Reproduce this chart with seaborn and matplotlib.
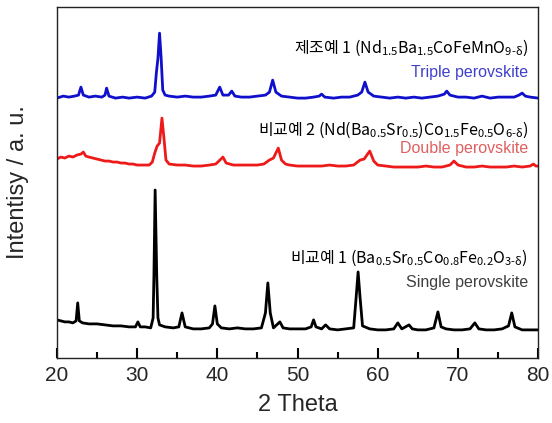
import numpy as np
import pandas as pd
import matplotlib
matplotlib.use('Agg')
import matplotlib.pyplot as plt
import seaborn as sns

# XRD patterns (2 theta, stacked intensity in a.u.)
triple_x = [20.0, 20.8, 21.5, 22.2, 22.7, 23.0, 23.3, 24.0, 24.8, 25.6, 26.0, 26.2, 26.5, 27.3, 28.2, 29.0,
            30.0, 31.0, 31.8, 32.2, 32.4, 32.6, 32.8, 33.0, 33.2, 33.5, 34.0, 35.0, 36.0, 37.0, 38.0, 39.0,
            39.8, 40.3, 40.7, 41.4, 41.8, 42.2, 43.0, 44.0, 45.0, 46.0, 46.5, 46.9, 47.3, 48.0, 49.0, 50.0,
            51.0, 52.0, 52.7, 53.0, 53.4, 54.5, 55.5, 56.5, 57.5, 58.0, 58.4, 58.8, 59.5, 60.5, 61.5, 62.5,
            63.5, 64.5, 65.5, 66.5, 67.5, 68.3, 68.6, 69.0, 70.0, 71.0, 72.0, 73.0, 74.0, 75.0, 76.0, 77.0,
            77.6, 78.0, 78.4, 79.0, 80.0]
triple_y = [260, 262, 261, 262, 263, 271, 263, 261, 262, 261, 263, 270, 262, 260, 261, 260,
            261, 260, 262, 266, 285, 300, 325, 300, 268, 263, 262, 261, 262, 261, 261, 262,
            263, 271, 263, 263, 267, 262, 261, 261, 262, 263, 266, 278, 266, 262, 261, 260,
            260, 261, 262, 264, 261, 260, 261, 261, 263, 266, 276, 266, 262, 261, 260, 261,
            260, 261, 260, 261, 262, 264, 267, 263, 261, 261, 260, 262, 260, 261, 261, 261,
            263, 265, 262, 261, 260]

double_x = [20.0, 20.5, 21.0, 21.5, 22.0, 22.5, 23.0, 23.3, 23.6, 24.0, 24.5, 25.0, 25.5, 26.0, 26.5, 27.0,
            27.5, 28.0, 28.5, 29.0, 29.5, 30.0, 30.5, 31.0, 31.5, 31.9, 32.2, 32.5, 32.8, 33.1, 33.35, 33.6,
            34.0, 35.0, 36.0, 37.0, 38.0, 39.0, 39.8, 40.2, 40.7, 41.1, 42.0, 43.0, 44.0, 45.0, 45.8, 46.5,
            47.0, 47.6, 48.0, 48.5, 49.0, 50.0, 51.0, 52.0, 53.0, 54.0, 55.0, 56.0, 57.0, 57.8, 58.3, 59.0,
            59.5, 60.0, 61.0, 62.0, 63.0, 64.0, 65.0, 66.0, 67.0, 68.0, 69.0, 69.5, 70.0, 71.0, 72.0, 73.0,
            74.0, 75.0, 76.0, 77.0, 78.0, 79.0, 79.4, 79.7, 80.0]
double_y = [199, 201, 200, 202, 201, 203, 204, 206, 202, 201, 200, 199, 198, 197, 197, 196,
            196, 195, 195, 194, 194, 193, 193, 193, 193, 196, 205, 212, 215, 240, 220, 198,
            194, 193, 193, 192, 192, 193, 194, 197, 201, 195, 193, 193, 193, 193, 194, 198,
            200, 210, 198, 194, 193, 192, 192, 192, 192, 193, 192, 192, 193, 198, 199, 207,
            197, 193, 192, 191, 191, 191, 191, 192, 191, 191, 193, 197, 193, 191, 191, 192,
            191, 191, 191, 192, 191, 192, 194, 192, 192]

single_x = [20.0, 20.5, 21.0, 21.5, 22.0, 22.4, 22.6, 22.8, 23.2, 24.0, 25.0, 26.0, 27.0, 28.0, 29.0, 29.8,
            30.1, 30.4, 31.0, 31.7, 32.0, 32.1, 32.25, 32.45, 32.6, 32.8, 33.5, 34.5, 35.2, 35.6, 36.0, 37.0,
            38.0, 39.0, 39.4, 39.7, 40.0, 40.5, 41.5, 42.5, 43.5, 44.5, 45.5, 46.0, 46.3, 46.6, 47.0, 47.8,
            48.2, 49.0, 50.0, 51.0, 51.7, 52.0, 52.3, 53.0, 53.5, 54.0, 55.0, 56.0, 57.0, 57.3, 57.55, 57.8,
            58.1, 59.0, 60.0, 61.0, 62.0, 62.5, 63.0, 63.9, 64.3, 65.0, 66.0, 67.0, 67.5, 67.9, 68.5, 69.5,
            70.5, 71.5, 72.1, 72.6, 73.5, 74.5, 75.5, 76.3, 76.7, 77.1, 78.0, 79.0, 80.0]
single_y = [38, 37, 36, 36, 35, 37, 55, 37, 35, 34, 34, 33, 32, 32, 31, 31,
            36, 31, 31, 30, 40, 82, 168, 82, 40, 33, 31, 30, 31, 45, 31, 29,
            29, 30, 34, 52, 34, 30, 29, 30, 29, 29, 30, 45, 75, 45, 30, 36,
            30, 29, 29, 29, 31, 38, 31, 29, 33, 29, 28, 29, 30, 60, 86, 60,
            32, 29, 28, 28, 29, 35, 29, 33, 29, 28, 28, 30, 46, 31, 29, 28,
            28, 29, 35, 29, 28, 28, 29, 32, 45, 31, 28, 28, 28]

sns.set_style('ticks', {'xtick.direction': 'in'})
plt.rcParams['font.family'] = ['Liberation Sans', 'Noto Sans CJK KR', 'DejaVu Sans']
plt.rcParams['mathtext.fontset'] = 'custom'
plt.rcParams['mathtext.rm'] = 'Noto Sans CJK KR'
plt.rcParams['mathtext.it'] = 'Noto Sans CJK KR'
plt.rcParams['mathtext.bf'] = 'Noto Sans CJK KR:bold'

fig = plt.figure(figsize=(5.52, 4.23), dpi=100)
ax = fig.add_axes([0.103, 0.154, 0.872, 0.829])

sns.lineplot(x=single_x, y=single_y, color='black', lw=2.0, ax=ax)
sns.lineplot(x=double_x, y=double_y, color='#ee1a1a', lw=2.0, ax=ax)
sns.lineplot(x=triple_x, y=triple_y, color='#1010cc', lw=2.0, ax=ax)

ax.set_xlim(20, 80)
ax.set_ylim(0, 351)
ax.set_xticks(range(20, 81, 10))
ax.set_xticks(range(25, 80, 10), minor=True)
ax.set_yticks([])
ax.tick_params(axis='x', which='major', direction='in', length=7, width=1.5, color='black',
               labelsize=15, pad=6)
ax.tick_params(axis='x', which='minor', direction='in', length=4, width=1.5, color='black')
for s in ax.spines.values():
    s.set_linewidth(1.0)
    s.set_color('#222222')

ax.set_xlabel('2 Theta', fontsize=17, labelpad=6)
ax.set_ylabel('Intentisy / a. u.', fontsize=17, labelpad=20)

kr = 'Noto Sans CJK KR'
fs = 11.5
ax.text(78.7, 310, r'제조예 1 (Nd$_{1.5}$Ba$_{1.5}$CoFeMnO$_{9\text{-}δ}$)', ha='right', va='center',
        fontsize=fs, family=kr, color='black')
ax.text(78.7, 286, 'Triple perovskite', ha='right', va='center', fontsize=11.5, color='#4040cc')
ax.text(78.7, 228, r'비교예 2 (Nd(Ba$_{0.5}$Sr$_{0.5}$)Co$_{1.5}$Fe$_{0.5}$O$_{6\text{-}δ}$)', ha='right',
        va='center', fontsize=fs, family=kr, color='black')
ax.text(78.7, 210, 'Double perovskite', ha='right', va='center', fontsize=11.5, color='#e06060')
ax.text(78.7, 100, r'비교예 1 (Ba$_{0.5}$Sr$_{0.5}$Co$_{0.8}$Fe$_{0.2}$O$_{3\text{-}δ}$)', ha='right',
        va='center', fontsize=fs, family=kr, color='black')
ax.text(78.7, 75, 'Single perovskite', ha='right', va='center', fontsize=11.5, color='#404040')

fig.savefig('out.png', dpi=100)
